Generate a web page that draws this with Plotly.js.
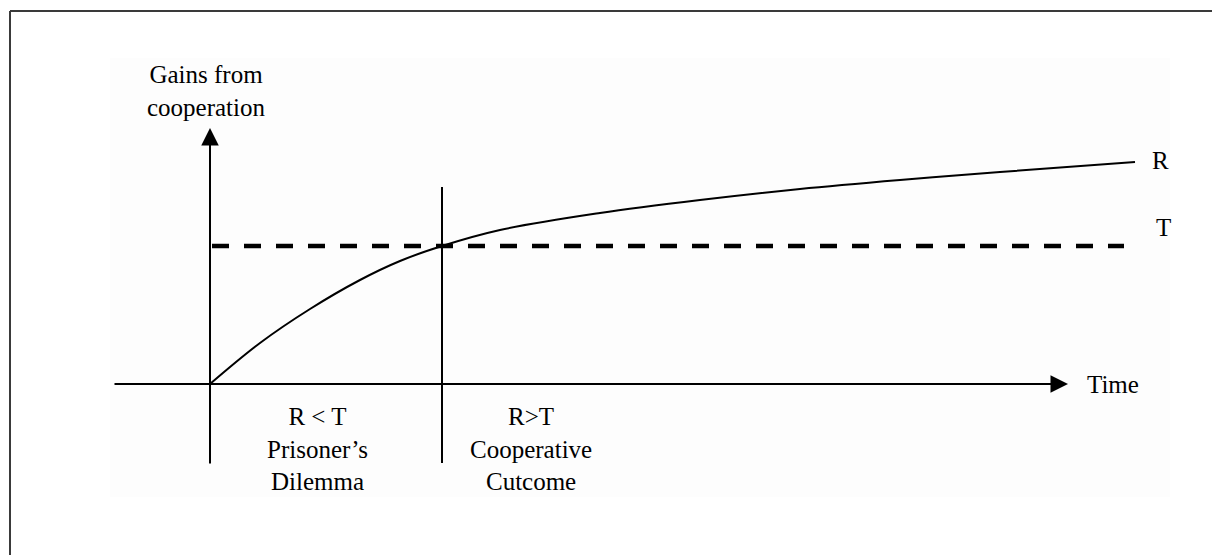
<!DOCTYPE html>
<html>
<head>
<meta charset="utf-8">
<script src="https://cdn.plot.ly/plotly-3.0.1.min.js"></script>
<style>html,body{margin:0;padding:0;background:#fff;}#chart{width:1212px;height:555px;}</style>
</head>
<body>
<div id="chart"></div>
<script>
// Time axis (arbitrary units, origin = start of the game)
const timePoints = [0, 0.5, 1.0, 1.5, 1.9, 2.32, 2.9, 3.9, 4.9, 5.9, 6.9, 7.9, 9.25];
// R: reward from cooperation (rising, concave)
const rValues = [0, 0.41, 0.75, 1.04, 1.23, 1.38, 1.54, 1.71, 1.84, 1.95, 2.04, 2.12, 2.22];
// T: temptation (constant)
const tTime = [0.02, 9.14];
const tValues = [1.38, 1.38];
// crossing point where R = T
const crossTime = [2.32, 2.32];
const crossExtent = [-0.79, 1.97];
// axes extents
const xAxisTime = [-0.97, 8.58];
const yAxisGain = [-0.81, 2.56];
// labels
const curveLabels = ["R", "T"];
const regionLabels = ["R &lt; T<br>Prisoner’s<br>Dilemma", "R&gt;T<br>Cooperative<br>Cutcome"];
const regionCenters = [1.07, 3.21];
const axisTitles = ["Gains from<br>cooperation", "Time"];

const font = {family: "Liberation Serif, Times New Roman, serif", size: 25, color: "#000"};

const traces = [
  {x: timePoints, y: rValues, mode: "lines", line: {color: "#000", width: 2, shape: "spline", smoothing: 1}, hoverinfo: "skip"},
  {x: tTime, y: tValues, mode: "lines", line: {color: "#000", width: 4.5, dash: "17px,15px"}, hoverinfo: "skip"},
  {x: crossTime, y: crossExtent, mode: "lines", line: {color: "#000", width: 2}, hoverinfo: "skip"}
];

const annotations = [
  // y axis with arrow
  {x: 0, y: yAxisGain[1], ax: 0, ay: yAxisGain[0], xref: "x", yref: "y", axref: "x", ayref: "y",
   text: "", showarrow: true, arrowhead: 2, arrowsize: 1.75, arrowwidth: 2, arrowcolor: "#000", standoff: 0, startstandoff: 0},
  // x axis with arrow
  {x: xAxisTime[1], y: 0, ax: xAxisTime[0], ay: 0, xref: "x", yref: "y", axref: "x", ayref: "y",
   text: "", showarrow: true, arrowhead: 2, arrowsize: 1.75, arrowwidth: 2, arrowcolor: "#000", standoff: 0, startstandoff: 0},
  {x: -0.04, y: 2.93, xref: "x", yref: "y", text: axisTitles[0], showarrow: false, font: font, xanchor: "center", yanchor: "middle", align: "center"},
  {x: 8.75, y: 0, xref: "x", yref: "y", text: axisTitles[1], showarrow: false, font: font, xanchor: "left", yanchor: "middle"},
  {x: 9.50, y: rValues[rValues.length - 1] + 0.02, xref: "x", yref: "y", text: curveLabels[0], showarrow: false, font: font, xanchor: "center", yanchor: "middle"},
  {x: 9.53, y: tValues[0] + 0.19, xref: "x", yref: "y", text: curveLabels[1], showarrow: false, font: font, xanchor: "center", yanchor: "middle"},
  {x: regionCenters[0], y: -0.645, xref: "x", yref: "y", text: regionLabels[0], showarrow: false, font: font, xanchor: "center", yanchor: "middle", align: "center"},
  {x: regionCenters[1], y: -0.645, xref: "x", yref: "y", text: regionLabels[1], showarrow: false, font: font, xanchor: "center", yanchor: "middle", align: "center"}
];

const layout = {
  width: 1212, height: 555,
  margin: {l: 0, r: 0, t: 0, b: 0},
  paper_bgcolor: "#fff", plot_bgcolor: "rgba(0,0,0,0)",
  showlegend: false,
  xaxis: {range: [-2.10, 10.02], visible: false, showgrid: false, zeroline: false, fixedrange: true},
  yaxis: {range: [-1.71, 3.84], visible: false, showgrid: false, zeroline: false, fixedrange: true},
  annotations: annotations,
  shapes: [
    {type: "rect", xref: "paper", yref: "paper", x0: 110/1212, x1: 1170/1212, y0: 1 - 497/555, y1: 1 - 58/555,
     fillcolor: "#fdfdfd", line: {width: 0}, layer: "below"},
    {type: "line", xref: "paper", yref: "paper", x0: 10/1212, x1: 1.05, y0: 1 - 11/555, y1: 1 - 11/555, line: {color: "#3a3a3a", width: 2}},
    {type: "line", xref: "paper", yref: "paper", x0: 10/1212, x1: 10/1212, y0: -0.05, y1: 1 - 11/555, line: {color: "#3a3a3a", width: 2}}
  ]
};

Plotly.newPlot("chart", traces, layout, {displayModeBar: false, staticPlot: true});
</script>
</body>
</html>
